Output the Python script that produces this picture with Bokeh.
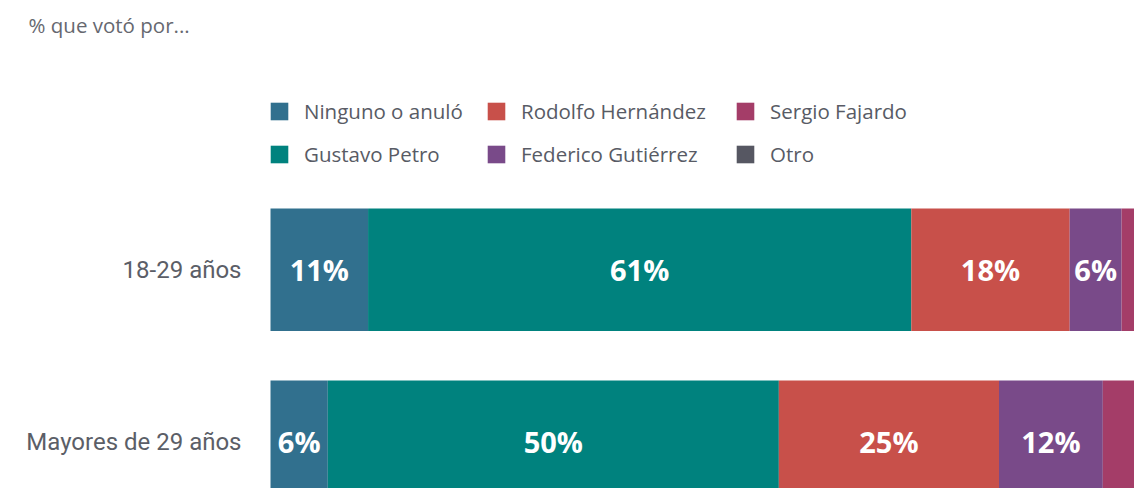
from bokeh.plotting import figure
from bokeh.models import ColumnDataSource, Range1d, Legend, LegendItem, Label
from bokeh.core.properties import value
from bokeh.embed import file_html
from bokeh.resources import INLINE

# ---- data ----
categories = ["18-29 años", "Mayores de 29 años"]
series = ["Ninguno o anuló", "Gustavo Petro", "Rodolfo Hernández",
          "Federico Gutiérrez", "Sergio Fajardo", "Otro"]
ninguno = [10.9, 6.4]
petro = [60.7, 50.4]
hernandez = [17.7, 24.6]
gutierrez = [5.8, 11.6]
fajardo = [2.0, 3.5]
otro = [2.9, 3.5]
colors = ["#31708e", "#00827e", "#c8504a", "#794a89", "#a43d68", "#565762"]
title_text = "% que votó por..."

keys = ["ninguno", "petro", "hernandez", "gutierrez", "fajardo", "otro"]
vals = [ninguno, petro, hernandez, gutierrez, fajardo, otro]
ypos = [len(categories) - 1 - i for i in range(len(categories))]

data = {"y": ypos}
for k, v in zip(keys, vals):
    data[k] = v
source = ColumnDataSource(data)

W, H = 1134, 488
p = figure(width=W, height=H, output_backend="svg", toolbar_location=None,
           x_axis_location=None, y_axis_location=None,
           x_range=Range1d(-30.17, 96.54), y_range=Range1d(-0.2715, 2.566),
           min_border=0, min_border_left=0, min_border_right=0,
           min_border_top=0, min_border_bottom=0)
p.outline_line_color = None
p.grid.visible = False
p.background_fill_color = "white"
p.border_fill_color = "white"

renderers = p.hbar_stack(keys, y="y", height=0.712, color=colors,
                         line_color=None, source=source)

# segment labels
lx, ly, lt = [], [], []
for ci in range(len(categories)):
    left = 0.0
    for v in vals:
        val = v[ci]
        if val >= 5:
            lx.append(left + val / 2)
            ly.append(ypos[ci])
            lt.append(f"{round(val)}%")
        left += val
p.text(x=lx, y=ly, text=lt, text_color="white", text_align="center",
       text_baseline="middle", text_font=value("Open Sans"),
       text_font_style="bold", text_font_size="29px")

# category labels
p.text(x=[0] * len(categories), y=ypos, text=categories, x_offset=-29,
       text_align="right", text_baseline="middle", text_font=value("Roboto"),
       text_font_size="24px", text_color="#5b5e67")

# legend: one legend per column (2 rows each)
col_x = [268, 485, 734]
for ci, x0 in enumerate(col_x):
    items = [LegendItem(label=series[j], renderers=[renderers[j]])
             for j in (2 * ci, 2 * ci + 1)]
    legend = Legend(items=items, location=(x0, 320), orientation="vertical",
                    glyph_width=22, glyph_height=22, label_standoff=14,
                    spacing=15, padding=0, margin=0, border_line_color=None,
                    background_fill_alpha=0, label_text_font="Open Sans",
                    label_text_font_size="20.5px", label_text_color="#585b65",
                    click_policy="none")
    p.add_layout(legend, "center")

p.add_layout(Label(x=28, y=H - 24, x_units="screen", y_units="screen",
                   text=title_text, text_baseline="middle",
                   text_font="Open Sans", text_font_size="20.5px",
                   text_color="#666870"))

open("out.html", "w").write(file_html(p, INLINE))
